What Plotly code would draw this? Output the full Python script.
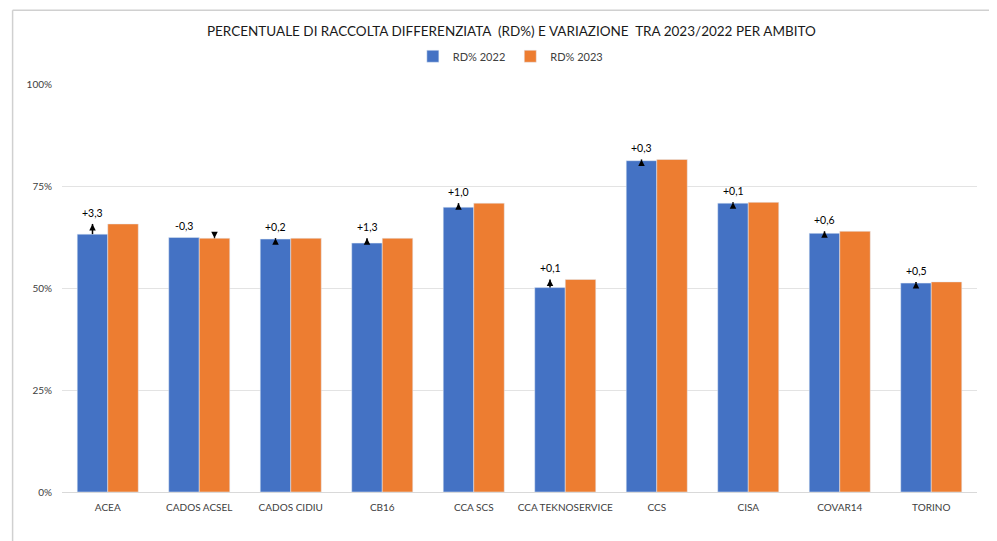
import plotly.graph_objects as go

categories = ["ACEA", "CADOS ACSEL", "CADOS CIDIU", "CB16", "CCA SCS",
              "CCA TEKNOSERVICE", "CCS", "CISA", "COVAR14", "TORINO"]
rd2022 = [0.632, 0.624, 0.620, 0.610, 0.698, 0.501, 0.812, 0.708, 0.634, 0.512]
rd2023 = [0.657, 0.622, 0.622, 0.622, 0.708, 0.521, 0.815, 0.710, 0.639, 0.515]
variation_labels = ["+3,3", "-0,3", "+0,2", "+1,3", "+1,0",
                    "+0,1", "+0,3", "+0,1", "+0,6", "+0,5"]

BLUE = "#4472C4"
ORANGE = "#ED7D31"
HALF = 1 / 6  # offset of each bar centre from the category centre

idx = list(range(len(categories)))

fig = go.Figure()
fig.add_trace(go.Bar(name="RD% 2022", x=idx, y=rd2022, marker_color=BLUE))
fig.add_trace(go.Bar(name="RD% 2023", x=idx, y=rd2023, marker_color=ORANGE))

# variation arrows (from 2022 level to 2023 level)
stem_x, stem_y = [], []
up_x, up_y, dn_x, dn_y = [], [], [], []
lab_x, lab_y = [], []
for i, a, b in zip(idx, rd2022, rd2023):
    if b >= a:
        xc = i - HALF
        up_x.append(xc); up_y.append(b)
    else:
        xc = i + HALF
        dn_x.append(xc); dn_y.append(b)
    stem_x += [xc, xc, None]
    stem_y += [a, b, None]
    lab_x.append(i - HALF); lab_y.append(max(a, b))

fig.add_trace(go.Scatter(x=stem_x, y=stem_y, mode="lines",
                         line=dict(color="black", width=1.5),
                         showlegend=False, hoverinfo="skip"))
fig.add_trace(go.Scatter(x=up_x, y=up_y, mode="markers",
                         marker=dict(symbol="arrow-up", size=6.5, color="black",
                                     line=dict(width=0)),
                         showlegend=False, hoverinfo="skip"))
fig.add_trace(go.Scatter(x=dn_x, y=dn_y, mode="markers",
                         marker=dict(symbol="arrow-down", size=6.5, color="black",
                                     line=dict(width=0)),
                         showlegend=False, hoverinfo="skip"))

annotations = []
for x, y, lab in zip(lab_x, lab_y, variation_labels):
    annotations.append(dict(
        x=x, y=y, xref="x", yref="y", showarrow=False,
        text=lab, yanchor="bottom", yshift=3,
        font=dict(family="Lato", size=10.5, color="#000000"),
    ))

fig.update_layout(
    width=989, height=533,
    paper_bgcolor="white", plot_bgcolor="white",
    margin=dict(l=54, r=20, t=76, b=49),
    barmode="group", bargap=0.333, bargroupgap=0,
    title=dict(text="PERCENTUALE DI RACCOLTA DIFFERENZIATA  (RD%) E VARIAZIONE  TRA 2023/2022 PER AMBITO",
               x=0.509, xanchor="center", y=0.957, yanchor="middle",
               font=dict(family="Lato", size=13.5, color="#1a1a1a")),
    legend=dict(orientation="h", x=0.49, xanchor="center", y=1.068, yanchor="middle",
                font=dict(family="Lato", size=11, color="#404040"),
                itemwidth=30, traceorder="normal"),
    annotations=annotations,
    font=dict(family="Lato"),
    shapes=[
        dict(type="line", xref="paper", yref="paper", x0=-0.054, x1=-0.054, y0=1.181, y1=-0.2,
             line=dict(color="#d0d0d0", width=1.5)),
        dict(type="line", xref="paper", yref="paper", x0=-0.054, x1=1.03, y0=1.181, y1=1.181,
             line=dict(color="#d0d0d0", width=1.5)),
    ],
)
fig.update_xaxes(showline=True, linecolor="#d9d9d9", linewidth=1,
                 tickvals=idx, ticktext=categories, range=[-0.5, len(categories) - 0.5],
                 tickfont=dict(family="Lato", size=10, color="#404040"),
                 ticklabelstandoff=6, showgrid=False, zeroline=False)
fig.update_yaxes(range=[0, 1], tickvals=[0, 0.25, 0.5, 0.75, 1.0],
                 tickformat=".0%", gridcolor="#e3e3e3", gridwidth=1,
                 zeroline=False,
                 tickfont=dict(family="Lato", size=10, color="#404040"),
                 ticklabelstandoff=9)

fig.write_html("out.html")
